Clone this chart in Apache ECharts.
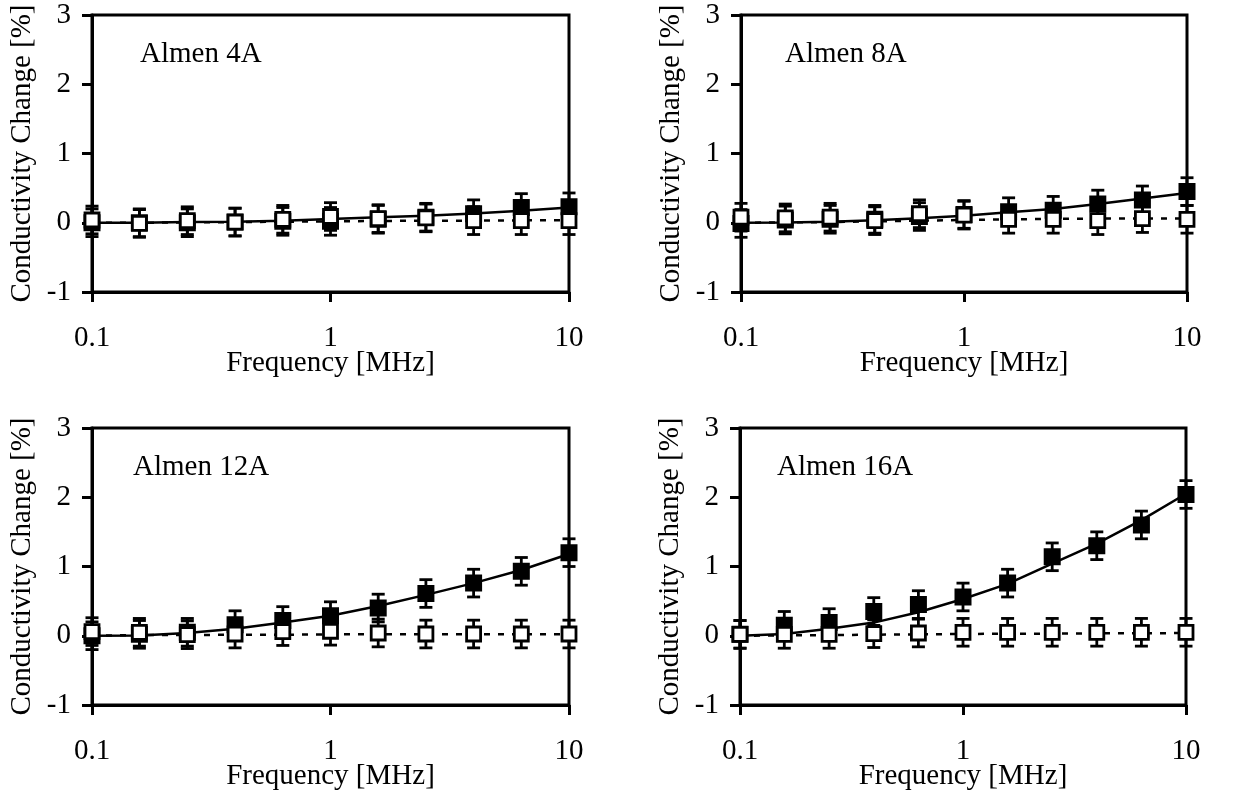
<!DOCTYPE html>
<html>
<head>
<meta charset="utf-8">
<script src="https://cdn.jsdelivr.net/npm/echarts@6/dist/echarts.min.js"></script>
<style>
html,body{margin:0;padding:0;background:#fff;}
#chart{width:1247px;height:796px;}
</style>
</head>
<body>
<div id="chart"></div>
<script>
// ---- data ----
const frequency = [0.1, 0.158, 0.251, 0.398, 0.631, 1, 1.585, 2.512, 3.981, 6.31, 10];
const panelTitles = ['Almen 4A', 'Almen 8A', 'Almen 12A', 'Almen 16A'];
const xTickLabels = ['0.1', '1', '10'];
const yTickLabels = ['-1', '0', '1', '2', '3'];

const filled4A  = [0, 0, 0, 0.01, 0.02, 0.02, 0.05, 0.08, 0.13, 0.22, 0.23];
const open4A    = [0.04, -0.01, 0.03, 0.01, 0.05, 0.09, 0.06, 0.07, 0.03, 0.03, 0.03];
const fitFilled4A = [0, 0, 0.01, 0.015, 0.03, 0.055, 0.08, 0.1, 0.135, 0.175, 0.22];
const fitOpen4A   = [0, 0, 0.005, 0.01, 0.015, 0.02, 0.025, 0.03, 0.03, 0.035, 0.035];

const filled8A  = [-0.01, 0.04, 0.05, 0.05, 0.09, 0.12, 0.16, 0.18, 0.27, 0.33, 0.45];
const open8A    = [0.08, 0.07, 0.08, 0.03, 0.13, 0.11, 0.05, 0.05, 0.03, 0.06, 0.05];
const fitFilled8A = [0, 0.005, 0.015, 0.035, 0.065, 0.1, 0.15, 0.2, 0.27, 0.35, 0.43];
const fitOpen8A   = [0, 0.005, 0.01, 0.02, 0.03, 0.04, 0.05, 0.055, 0.06, 0.06, 0.06];

const filled12A = [0, 0.02, 0.05, 0.16, 0.22, 0.29, 0.4, 0.61, 0.76, 0.93, 1.2];
const open12A   = [0.06, 0.05, 0.015, 0.025, 0.06, 0.065, 0.04, 0.025, 0.025, 0.025, 0.025];
const fitFilled12A = [0, 0.005, 0.04, 0.1, 0.19, 0.29, 0.43, 0.59, 0.76, 0.95, 1.18];
const fitOpen12A   = [0, 0.01, 0.01, 0.015, 0.015, 0.02, 0.02, 0.02, 0.02, 0.02, 0.02];

const filled16A = [0.02, 0.15, 0.19, 0.35, 0.45, 0.56, 0.76, 1.14, 1.3, 1.6, 2.04];
const open16A   = [0.02, 0.02, 0.02, 0.03, 0.04, 0.05, 0.05, 0.05, 0.05, 0.05, 0.05];
const fitFilled16A = [0, 0.025, 0.1, 0.19, 0.34, 0.53, 0.75, 1.04, 1.33, 1.67, 2.05];
const fitOpen16A   = [0, 0.005, 0.01, 0.015, 0.02, 0.025, 0.03, 0.03, 0.035, 0.035, 0.04];

const errFilled = 0.2;
const errOpen = 0.2;

const panels = [
  {filled: filled4A,  open: open4A,  fitF: fitFilled4A,  fitO: fitOpen4A},
  {filled: filled8A,  open: open8A,  fitF: fitFilled8A,  fitO: fitOpen8A},
  {filled: filled12A, open: open12A, fitF: fitFilled12A, fitO: fitOpen12A},
  {filled: filled16A, open: open16A, fitF: fitFilled16A, fitO: fitOpen16A}
];

// ---- layout ----
const FONT = "'Liberation Serif','Times New Roman',serif";
const FS = 29;
const grids = [
  {left: 92,  top: 15,  width: 477, height: 277},
  {left: 741, top: 15,  width: 446, height: 277},
  {left: 92,  top: 428, width: 477, height: 277},
  {left: 740, top: 428, width: 446, height: 277}
];
const titlePos = [
  {left: 140, top: 40}, {left: 785, top: 40},
  {left: 133, top: 453}, {left: 777, top: 453}
];

function errRender(params, api) {
  const x = api.value(0), lo = api.value(1), hi = api.value(2);
  const a = api.coord([x, lo]), b = api.coord([x, hi]);
  const w = 6.5;
  const st = {stroke: '#000', lineWidth: 2.8};
  return {type: 'group', children: [
    {type: 'line', shape: {x1: a[0], y1: a[1], x2: b[0], y2: b[1]}, style: st},
    {type: 'line', shape: {x1: a[0] - w, y1: a[1], x2: a[0] + w, y2: a[1]}, style: st},
    {type: 'line', shape: {x1: b[0] - w, y1: b[1], x2: b[0] + w, y2: b[1]}, style: st}
  ]};
}

const xAxes = [], yAxes = [], series = [], graphics = [];
grids.forEach((g, i) => {
  xAxes.push({
    gridIndex: i, type: 'log', logBase: 10, min: 0.1, max: 10,
    name: 'Frequency [MHz]', nameLocation: 'middle', nameGap: 57, nameMoveOverlap: false,
    nameTextStyle: {fontFamily: FONT, fontSize: FS, color: '#000'},
    axisLine: {show: true, onZero: false, lineStyle: {color: '#000', width: 3}},
    axisTick: {show: true, inside: false, length: 10, lineStyle: {color: '#000', width: 3}},
    minorTick: {show: false}, splitLine: {show: false},
    axisLabel: {fontFamily: FONT, fontSize: FS, color: '#000', margin: 32,
      formatter: v => { const s = String(+(+v).toPrecision(3)); return xTickLabels.indexOf(s) >= 0 ? s : ''; }}
  });
  yAxes.push({
    gridIndex: i, type: 'value', min: -1, max: 3, interval: 1,
    name: 'Conductivity Change [%]', nameLocation: 'middle', nameGap: 55, nameMoveOverlap: false,
    nameTextStyle: {fontFamily: FONT, fontSize: FS, color: '#000'},
    axisLine: {show: true, onZero: false, lineStyle: {color: '#000', width: 3}},
    axisTick: {show: true, inside: false, length: 10, lineStyle: {color: '#000', width: 3}},
    splitLine: {show: false},
    axisLabel: {fontFamily: FONT, fontSize: FS, color: '#000', margin: 21,
      formatter: v => { const s = String(Math.round(v)); return yTickLabels.indexOf(s) >= 0 ? s : ''; }}
  });
  const p = panels[i];
  series.push({
    type: 'line', xAxisIndex: i, yAxisIndex: i, z: 1, showSymbol: false, silent: true,
    data: frequency.map((f, k) => [f, p.fitF[k]]),
    lineStyle: {color: '#000', width: 2.5}
  });
  series.push({
    type: 'line', xAxisIndex: i, yAxisIndex: i, z: 1, showSymbol: false, silent: true,
    data: frequency.map((f, k) => [f, p.fitO[k]]),
    lineStyle: {color: '#000', width: 2.5, type: [6, 8]}
  });
  series.push({
    type: 'custom', xAxisIndex: i, yAxisIndex: i, z: 2, renderItem: errRender,
    encode: {x: 0, y: [1, 2]},
    data: frequency.map((f, k) => [f, p.filled[k] - errFilled, p.filled[k] + errFilled])
  });
  series.push({
    type: 'scatter', xAxisIndex: i, yAxisIndex: i, z: 3, symbol: 'rect', symbolSize: 15,
    data: frequency.map((f, k) => [f, p.filled[k]]),
    itemStyle: {color: '#000', borderColor: '#000', borderWidth: 2, opacity: 1}
  });
  series.push({
    type: 'custom', xAxisIndex: i, yAxisIndex: i, z: 4, renderItem: errRender,
    encode: {x: 0, y: [1, 2]},
    data: frequency.map((f, k) => [f, p.open[k] - errOpen, p.open[k] + errOpen])
  });
  series.push({
    type: 'scatter', xAxisIndex: i, yAxisIndex: i, z: 5, symbol: 'rect', symbolSize: 14,
    data: frequency.map((f, k) => [f, p.open[k]]),
    itemStyle: {color: '#fff', borderColor: '#000', borderWidth: 2.8, opacity: 1}
  });
  graphics.push({
    type: 'text', left: titlePos[i].left, top: titlePos[i].top, z: 10,
    style: {text: panelTitles[i], font: FS + 'px ' + FONT, fill: '#000'}
  });
});

const chart = echarts.init(document.getElementById('chart'), null, {renderer: 'canvas'});
chart.setOption({
  animation: false,
  backgroundColor: '#fff',
  grid: grids.map(g => Object.assign({show: true, borderColor: '#000', borderWidth: 3, backgroundColor: 'transparent'}, g)),
  xAxis: xAxes,
  yAxis: yAxes,
  series: series,
  graphic: graphics
});
</script>
</body>
</html>
